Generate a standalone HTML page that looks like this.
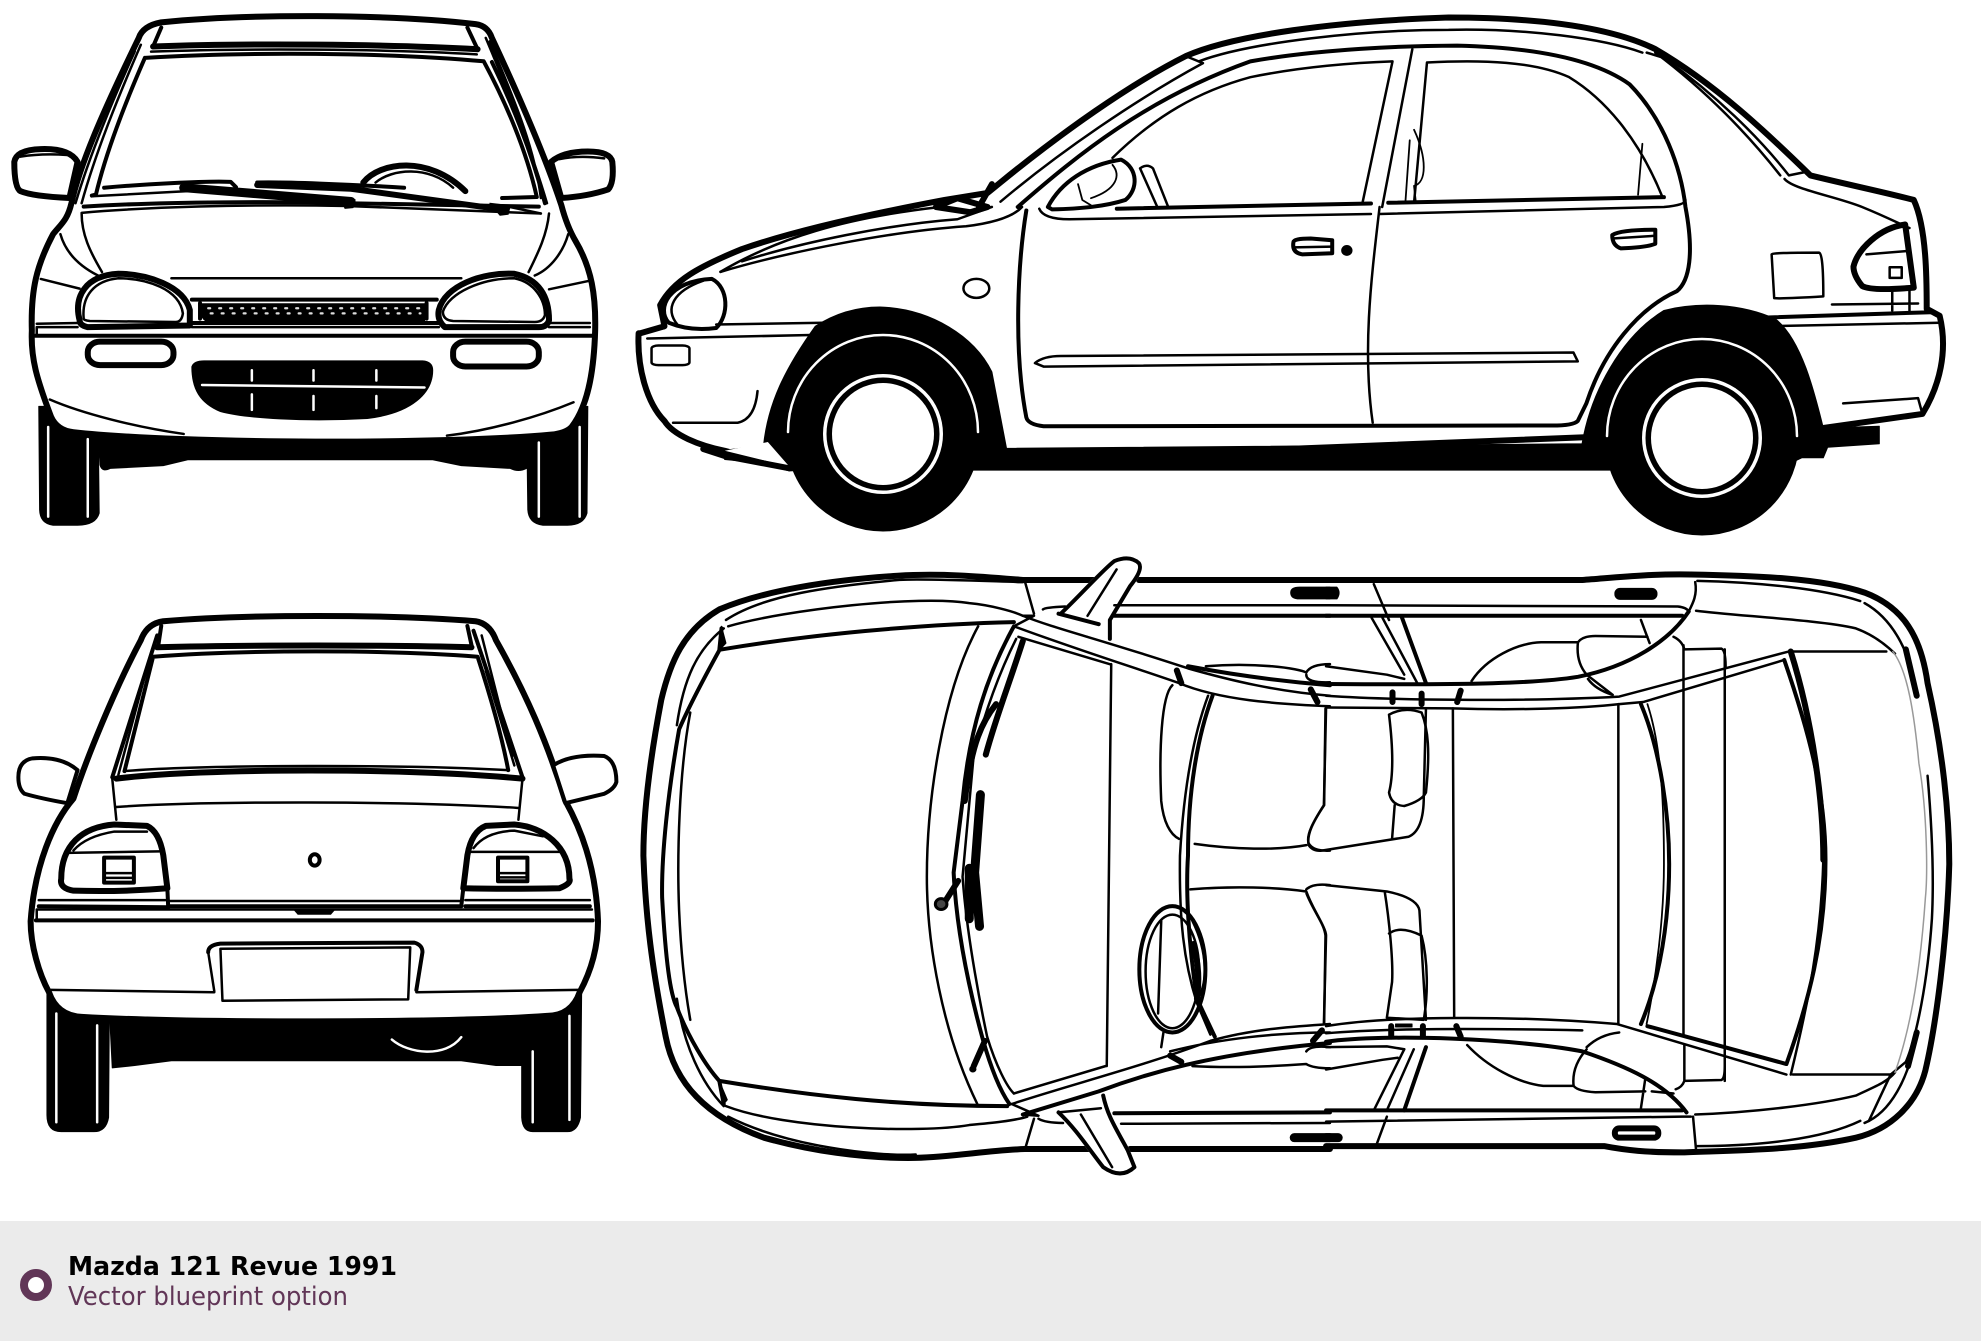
<!DOCTYPE html>
<html><head><meta charset="utf-8"><title>Mazda 121 Revue 1991</title>
<style>
html,body{margin:0;padding:0;background:#fff;width:1981px;height:1341px;overflow:hidden}
svg{display:block}
path,ellipse,rect,circle{vector-effect:non-scaling-stroke;fill:none;stroke:#000;stroke-width:4;stroke-linejoin:round;stroke-linecap:round}
.t{stroke-width:2.5}.n{stroke-width:1.8}.b{stroke-width:6}.x{stroke-width:9}
.f{fill:#000;stroke:#000;stroke-width:1}
.w{fill:#fff}
.wl{stroke:#fff;stroke-width:2.5}
.g{stroke:#999;stroke-width:1.5}
</style></head><body>
<svg width="1981" height="1341" viewBox="0 0 1981 1341" xmlns="http://www.w3.org/2000/svg">
<rect x="0" y="0" width="1981" height="1341" style="fill:#fff;stroke:none"/>

<!-- FRONT VIEW -->
<g transform="scale(.4082 .3444)">
<path class="f" d="M95,1180L240,1180L243,1490Q235,1525 190,1525L130,1525Q98,1520 97,1480Z"/>
<path class="f" d="M1290,1200L1440,1180L1438,1490Q1430,1525 1390,1525L1330,1525Q1295,1520 1293,1480Z"/>
<path class="f" d="M240,1260L1295,1260L1290,1360Q1270,1372 1250,1360L1130,1352L1060,1335L460,1335L400,1352L270,1360Q250,1372 245,1350Z"/>
<path class="wl" d="M118,1240V1500M215,1275V1500M1320,1285V1500M1420,1240V1500"/>
<path class="b w" d="M175,590C195,480 250,330 340,110Q350,75 395,65C600,40 950,40 1165,70Q1195,75 1205,110C1280,300 1340,470 1375,595C1385,640 1395,670 1410,700C1450,780 1460,860 1458,960C1455,1080 1440,1180 1400,1240Q1385,1258 1350,1262C1100,1290 450,1290 180,1255Q140,1250 125,1210C90,1100 75,1040 78,960C75,840 90,770 130,680C150,650 165,640 175,590Z"/>
<path class="b w" d="M375,135L395,80C600,62 950,62 1145,80L1170,143C950,128 600,125 375,135Z" style="stroke:none"/>
<path d="M375,135L395,80M1145,80L1170,143"/>
<path class="b" d="M375,135C600,125 950,128 1170,143"/>
<path class="t" d="M370,150C600,140 950,142 1168,158"/>
<path d="M355,168C600,150 950,152 1185,178C1240,300 1290,440 1315,572L1230,575M355,168C310,290 260,440 235,565L225,568"/>
<path class="t" d="M345,130C290,280 235,440 200,590M330,150C280,280 220,450 185,590M1190,110C1240,250 1300,430 1340,590M1200,120C1260,290 1310,430 1325,575"/>
<path d="M1205,180C1250,290 1300,430 1335,590"/>
<path d="M205,600C400,585 700,585 850,590L1320,600"/>
<path class="t" d="M200,618C350,602 600,592 850,598L1325,620"/>
<path class="t" d="M225,570L460,555"/>
<path d="M255,545C350,535 500,525 565,528L578,543M630,530C700,528 850,535 990,545"/>
<path class="x" d="M450,545L860,585"/>
<path class="b" d="M630,537L860,548L1240,610"/>
<path class="f" d="M835,575L870,580L865,603L845,605Z"/>
<path class="f" d="M1200,590L1250,597L1245,622L1225,625Z"/>
<path class="b" d="M890,530C930,470 1050,450 1140,555"/>
<path class="t" d="M920,530C960,490 1050,480 1110,545"/>
<path class="t" d="M1245,600L1325,620"/>
<path class="t" d="M200,620C200,680 220,730 250,790M1345,620C1340,680 1320,730 1295,790M148,680C160,730 190,770 240,800M1392,680C1380,730 1350,780 1310,800"/>
<path class="b w" d="M195,930C180,860 210,800 290,795C360,795 450,830 465,900L465,945L215,950Q195,945 195,930Z"/>
<path class="t" d="M205,925C200,860 230,815 290,808C360,808 440,840 448,910Q445,935 430,935L220,932Q205,930 205,925Z"/>
<path class="b w" d="M1075,900C1090,830 1180,790 1260,795C1320,810 1345,860 1345,930Q1340,950 1320,950L1090,950Q1070,930 1075,900Z"/>
<path class="t" d="M1085,905C1100,850 1180,808 1260,808C1310,820 1335,870 1335,915Q1330,935 1310,935L1110,932Q1085,930 1085,905Z"/>
<path class="t" d="M420,808L1130,808"/>
<path d="M470,870L1070,870M465,938L1075,938M490,880V925M1045,880V925"/>
<path class="f" d="M490,882L1045,882L1040,932L505,932Q490,925 490,882Z"/>
<path style="stroke:#ddd;stroke-width:2.2;stroke-dasharray:2 9" d="M510,895H1030M516,910H1030"/>
<path class="t" d="M90,950L190,950M90,940L190,938M1345,938L1445,938M1345,950L1445,950M90,950V975"/>
<path d="M85,975L1450,975"/>
<path class="t" d="M470,950L1075,950M100,810L195,838M1445,815L1345,840"/>
<rect class="b" x="215" y="992" width="210" height="68" rx="30"/>
<rect class="b" x="1110" y="992" width="210" height="72" rx="30"/>
<path class="f" d="M470,1065Q475,1048 500,1048L1035,1048Q1060,1050 1060,1075C1060,1140 1010,1200 900,1215C750,1225 600,1215 540,1195C490,1170 470,1130 470,1065Z"/>
<path class="wl" d="M495,1118L1040,1125M617,1075V1105M768,1075V1105M922,1075V1105M617,1145V1190M768,1150V1190M922,1150V1185"/>
<path class="t" d="M122,1160C200,1200 330,1240 450,1260M1405,1168C1320,1210 1200,1250 1095,1265"/>
<path class="b w" d="M35,470Q40,435 100,433Q170,430 190,470L170,575Q80,570 50,555Q35,545 35,470Z"/>
<path class="t" d="M50,455Q100,445 165,450"/>
<path class="b w" d="M1350,470Q1380,440 1440,440Q1495,440 1500,470Q1505,530 1490,550Q1440,570 1375,575Z"/>
<path class="t" d="M1370,462Q1420,450 1480,460"/>
</g>

<!-- SIDE VIEW -->
<g transform="translate(630,0) scale(.8616 .3508)">
<path class="b w" d="M10,950C8,1050 20,1150 40,1200C50,1240 80,1270 110,1285L185,1335L1385,1220L1500,1180C1520,1100 1530,1000 1520,900L1505,880C1505,800 1505,650 1490,570C1460,550 1420,530 1370,500C1320,380 1260,240 1190,140C1140,80 1060,50 950,50C820,60 700,100 645,160C580,240 500,380 430,520L415,550L365,570C300,600 200,650 130,710C80,760 50,800 35,870L40,930L12,950Z"/>
<path class="t" d="M660,175C720,120 850,85 950,85C1040,80 1130,110 1175,150"/>
<path class="t" d="M645,160L665,180C590,280 500,430 430,575"/>
<path class="t" d="M1180,150L1200,165C1260,270 1310,390 1345,500L1365,490C1320,370 1260,250 1200,160M1190,150C1250,260 1300,390 1335,500"/>
<path d="M450,590C520,440 600,280 720,175C800,140 900,130 960,130C1050,135 1120,170 1160,240C1200,340 1220,480 1225,590C1235,720 1230,800 1215,830C1170,880 1130,1000 1110,1150L1100,1200Q1095,1213 1070,1213L480,1215Q462,1210 460,1190C445,1000 450,750 460,600"/>
<path class="t" d="M560,450C610,330 660,260 720,220C770,195 830,180 885,175L850,580"/>
<path class="t" d="M908,140L873,590"/>
<path class="t" d="M925,178C990,170 1050,175 1090,220C1130,280 1170,390 1198,560M925,178L910,578"/>
<path class="n" d="M1175,410L1170,555M910,370C925,450 925,520 910,530L912,575M905,400L900,575"/>
<path class="t" d="M475,595Q480,625 510,625L860,610M870,610L1200,590Q1225,585 1225,570"/>
<path d="M565,595L860,580M880,578L1200,562"/>
<path class="w" d="M485,590C500,520 530,470 570,455C590,480 590,540 575,570C550,590 520,595 490,597Z"/>
<path class="n" d="M520,525L525,570L535,585M560,470C570,500 565,540 535,565"/>
<path class="t" d="M592,480Q600,465 607,480L625,592M592,480L612,590"/>
<path d="M770,690Q770,680 790,680L815,685L815,722L780,725Q768,720 770,690Z"/>
<path class="t" d="M770,705L815,703"/>
<ellipse class="f" cx="832" cy="714" rx="6" ry="14"/>
<path d="M1140,670Q1150,655 1190,655L1190,695Q1180,705 1150,708Q1140,700 1140,670Z"/>
<path class="t" d="M1140,680L1190,672"/>
<path class="t" d="M470,1035Q480,1015 500,1015L1095,1005L1100,1030L480,1045Z"/>
<path class="t" d="M870,590C860,800 850,1000 862,1205"/>
<path class="t" d="M1325,725Q1325,720 1380,720Q1385,720 1385,845Q1340,852 1328,850Z"/>
<path class="w b" d="M1420,760C1425,710 1450,650 1480,640L1490,820Q1440,830 1430,815C1425,800 1420,780 1420,760Z"/>
<path class="t" d="M1435,725L1485,715"/>
<rect class="t" x="1462" y="762" width="14" height="30"/>
<path class="t" d="M1395,868L1495,865M1465,825V885M1485,825V885"/>
<path d="M1320,905L1510,890"/>
<path class="t" d="M1320,930L1520,920M1408,1150L1495,1135L1500,1180"/>
<path class="t" d="M1340,510C1350,540 1400,560 1430,590C1460,620 1475,640 1485,650"/>
<ellipse class="t" cx="402" cy="822" rx="15" ry="27"/>
<path class="w" d="M45,920C30,880 45,800 95,795C115,820 115,900 100,935Q70,945 45,920Z"/>
<path class="t" d="M55,925C40,880 50,830 85,800"/>
<path class="t" d="M40,935L20,945M100,925L225,920M20,965L210,955"/>
<rect class="t" x="25" y="985" width="44" height="56" rx="8"/>
<path class="t" d="M50,1205L125,1205Q145,1195 148,1115"/>
<path class="t" d="M105,775C180,720 300,660 390,645Q440,630 455,590M130,745C200,690 300,640 380,625L420,590"/>
<path class="b" d="M355,590L380,565L415,590L395,605Z"/>
<path class="b" d="M405,590L420,525"/>
<path class="t" d="M360,590C250,620 170,680 105,775"/>
<!-- arches -->
<path class="f" d="M155,1270C160,1150 180,1050 215,930C240,890 265,875 290,875C350,880 400,960 420,1060L437,1278L1105,1265C1115,1120 1150,960 1200,885C1240,860 1290,865 1330,910C1360,970 1375,1120 1385,1220L1450,1215L1450,1265L1390,1275L1385,1305L1360,1305L1330,1340L400,1340L185,1335L155,1320L110,1310L105,1285L155,1270Z"/>
<path class="w" style="stroke:none" d="M160,1260L185,1330L110,1285Z"/>
<path class="b" d="M185,1335L110,1300L85,1280"/>
</g>
<g>
<circle class="f" cx="883" cy="434" r="97"/>
<path class="wl" d="M788,432A95,97 0 0 1 978,432"/>
<circle cx="883" cy="434" r="60" style="fill:#fff;stroke:none"/>
<circle class="f" cx="883" cy="434" r="56"/>
<circle cx="883" cy="434" r="51" style="fill:#fff;stroke:none"/>
<circle class="f" cx="1702" cy="438" r="97"/>
<path class="wl" d="M1607,436A95,97 0 0 1 1797,436"/>
<circle cx="1702" cy="438" r="60" style="fill:#fff;stroke:none"/>
<circle class="f" cx="1702" cy="438" r="56"/>
<circle cx="1702" cy="438" r="51" style="fill:#fff;stroke:none"/>
</g>

<!-- REAR VIEW -->
<g transform="translate(0,600) scale(.4082 .4726)">
<path class="f" d="M115,800L268,850L266,1095Q260,1125 230,1125L150,1125Q115,1125 115,1090Z"/>
<path class="f" d="M1278,860L1425,820L1422,1095Q1415,1125 1390,1125L1305,1125Q1280,1125 1278,1095Z"/>
<path class="f" d="M268,870L1282,870L1280,985L1215,985L1130,975L420,975L330,985L275,990Z"/>
<path class="wl" d="M138,875V1105M238,900V1105M1305,955V1105M1395,880V1100M960,930C1000,960 1090,970 1130,925"/>
<path class="b w" d="M180,420C210,340 280,190 345,85Q360,50 400,45C600,30 950,30 1165,45Q1200,50 1215,85C1290,200 1340,300 1385,425C1420,480 1460,560 1465,680C1465,740 1445,790 1420,830Q1400,880 1340,880C1100,895 450,895 200,882Q140,880 120,830C95,790 75,730 75,680C85,560 130,470 180,420Z"/>
<path d="M388,95L395,55M1145,55L1155,95"/>
<path class="b" d="M385,100C600,95 950,95 1155,100"/>
<path d="M375,120C600,105 950,105 1170,120C1200,200 1230,290 1245,360M375,120L305,362"/>
<path class="t" d="M305,362C500,348 1000,348 1245,360"/>
<path class="b" d="M285,378C500,355 1000,355 1280,378"/>
<path d="M385,75L275,375M1160,65L1280,375"/>
<path class="t" d="M355,160L290,370M1180,75L1255,330M1190,150L1260,350"/>
<path class="t" d="M275,378L285,465M1280,378L1270,465M285,438C500,425 1000,425 1270,440"/>
<path class="b w" d="M150,590C150,520 200,480 280,475L360,478Q390,490 400,540L410,610Q300,618 180,615Q145,610 150,590Z"/>
<path class="t" d="M165,535L390,532M180,530Q210,500 280,490L360,490"/>
<path class="b w" d="M1395,590C1395,520 1330,480 1260,475L1190,478Q1155,490 1145,540L1135,610Q1240,612 1370,610Q1400,600 1395,590Z"/>
<path class="t" d="M1155,533L1375,533M1160,525Q1190,490 1260,488L1330,500"/>
<rect x="255" y="545" width="73" height="53"/>
<path class="t" d="M255,578H328M255,588H328"/>
<rect x="1220" y="545" width="72" height="50"/>
<path class="t" d="M1220,578H1292M1220,587H1292"/>
<circle cx="771" cy="550" r="12"/>
<path class="t" d="M95,635L405,635M1140,635L1445,635"/>
<path d="M95,648L412,650M415,648L1130,648M1140,648L1445,648M410,610L412,650M1135,610L1130,648"/>
<path class="t" d="M415,637L1130,637"/>
<path class="t" d="M90,655L1450,655M90,655V678"/>
<path d="M88,678L1452,678"/>
<path class="f" d="M720,655L820,655L810,665L730,665Z"/>
<path d="M510,745Q510,730 540,727L1015,725Q1035,730 1035,745L1020,825"/>
<path class="t" d="M510,745L525,828"/>
<path class="t" d="M540,738L1005,735L1000,845L545,848Z"/>
<path class="t" d="M125,825L525,830M1020,830L1415,825"/>
<path class="w" d="M45,375Q45,340 80,335Q150,330 190,360L165,430Q100,420 60,410Q45,400 45,375Z"/>
<path class="w" d="M1355,350Q1400,325 1480,330Q1510,340 1510,385Q1505,400 1480,410L1385,430Z"/>
</g>

<!-- TOP VIEW left half -->
<g transform="translate(630,540) scale(.4464 .4209)">
<path class="b" d="M1568,95L1140,95M1040,95L880,95C800,88 700,78 600,85C450,95 300,120 200,165C120,215 90,290 70,380C45,520 30,650 30,750C35,900 50,1020 80,1180C100,1290 170,1370 300,1420C400,1450 520,1470 640,1468C730,1465 800,1450 885,1447L1030,1447M1120,1447L1568,1447"/>
<path class="t" d="M880,100C850,100 650,90 600,95C450,110 300,130 215,190"/>
<path class="t" d="M220,205C350,165 650,130 760,150C810,155 860,170 880,180"/>
<path d="M205,260C400,225 650,200 860,195"/>
<path class="f" d="M205,205L200,262L215,245Z"/>
<path class="f" d="M200,1285L210,1340L218,1330Z"/>
<path d="M205,210L200,262C170,320 130,400 110,450C85,600 70,750 72,850C80,1000 90,1080 105,1110C130,1180 170,1250 200,1285L210,1340"/>
<path class="t" d="M135,410C110,550 105,750 110,880C115,1000 125,1080 135,1140M210,210C150,260 120,330 105,440M105,1090C120,1200 160,1290 210,1345"/>
<path d="M200,1285C400,1320 600,1345 845,1345"/>
<path class="t" d="M215,1345C350,1400 650,1410 760,1390C810,1385 860,1380 890,1370M220,1370C350,1440 550,1465 640,1460"/>
<path class="t" d="M780,205C700,360 665,620 665,800C665,960 700,1170 778,1340"/>
<path d="M860,205C800,320 760,450 745,620L725,790C730,900 750,1030 790,1185C810,1260 830,1310 850,1340"/>
<path class="t" d="M865,235C820,330 790,430 770,510L745,800C755,950 790,1130 800,1180C820,1250 845,1300 860,1315"/>
<path class="b" d="M880,240C850,340 820,420 797,510"/>
<path class="b" d="M820,390C790,430 765,480 750,620"/>
<path class="x" d="M785,605L772,790L783,918M760,780V900"/>
<path class="b" d="M735,810L705,860M795,1190L770,1250"/>
<circle cx="697" cy="865" r="13" style="fill:#444;stroke:#000;stroke-width:3"/>
<circle class="f" cx="768" cy="1257" r="7"/>
<path class="t" d="M880,180C950,210 1050,235 1250,305C1350,335 1450,360 1568,370M860,205C1000,260 1150,310 1230,340C1320,380 1450,390 1568,395M870,230L1075,295"/>
<path d="M1250,300C1350,320 1450,335 1568,345"/>
<path class="t" d="M855,1340C1000,1290 1150,1250 1300,1190C1400,1160 1500,1155 1568,1150M860,1315L1065,1250M1210,1215C1320,1185 1450,1170 1568,1170"/>
<path d="M880,1365L1050,1310C1150,1270 1300,1220 1568,1195"/>
<path class="t" d="M860,205L905,180L880,180M855,1340L915,1368L880,1365"/>
<path class="t" d="M1078,295L1068,1250"/>
<path class="w" d="M970,170C1010,130 1060,70 1085,50Q1120,35 1140,55Q1150,70 1120,110L1075,190L1075,235L960,178Z" style="stroke:#fff"/>
<path d="M965,175C1010,130 1060,70 1085,50Q1120,35 1140,55Q1150,70 1120,110L1075,190L1075,235M960,175L1050,200"/>
<path class="t" d="M1025,180L1090,70"/>
<path class="w" d="M960,1360C1000,1400 1030,1450 1060,1490Q1100,1520 1130,1490L1115,1450C1090,1400 1070,1370 1060,1320Z" style="stroke:#fff"/>
<path d="M960,1360C1000,1400 1030,1450 1060,1490Q1100,1520 1130,1490L1115,1450C1090,1400 1070,1370 1060,1320"/>
<path class="t" d="M1010,1365L1080,1490M960,1360L1055,1350"/>
<path class="t" d="M1085,155L1568,155M1100,1387L1568,1385"/>
<path d="M1085,180L1568,180M1085,1362L1568,1360"/>
<path class="f" d="M1480,125Q1480,112 1500,112L1568,112V140L1500,140Q1480,140 1480,125Z"/>
<path class="x" d="M1488,1420L1568,1420"/>
<path class="t" d="M885,100L905,175M925,165Q930,160 975,158M905,1375L885,1447M915,1375Q930,1385 970,1385"/>
<path class="t" d="M1215,345C1190,370 1185,500 1190,620C1195,670 1210,700 1230,710M1265,722C1350,735 1450,738 1515,725"/>
<path d="M1305,370C1270,470 1250,600 1250,750C1245,830 1250,950 1270,1090L1310,1180"/>
<path class="t" d="M1295,370C1260,470 1240,600 1232,750C1230,900 1240,1000 1270,1100L1300,1175"/>
<path class="t" d="M1255,830C1350,822 1450,825 1515,835C1530,880 1555,910 1558,940L1555,1150M1558,400L1555,630C1530,670 1515,700 1520,720Q1530,740 1568,738M1515,830Q1530,815 1568,820"/>
<path class="t" d="M1290,300C1400,290 1500,305 1515,315Q1525,295 1568,295M1515,320Q1515,340 1568,338M1260,1250C1350,1255 1450,1250 1515,1245Q1530,1255 1568,1255M1515,1215Q1525,1200 1568,1205"/>
<ellipse cx="1215" cy="1020" rx="74" ry="150"/>
<ellipse class="t" cx="1215" cy="1025" rx="60" ry="135"/>
<path class="t" d="M1190,905L1183,1125M1195,1170L1190,1205"/>
<path class="b" d="M1262,960C1275,1010 1275,1050 1270,1090"/>
<path class="t" d="M1260,905C1295,980 1295,1060 1270,1090"/>
<path class="b" d="M1225,310L1235,340M1210,1225L1235,1240M1525,355L1540,385M1530,1190L1550,1165"/>
</g>

<!-- TOP VIEW right half -->
<g transform="translate(1300,540) scale(.4343 .4209)">
<path class="b" d="M60,95L650,95C720,90 800,80 900,82C1050,85 1200,90 1300,125C1390,160 1430,230 1445,340C1480,500 1495,650 1495,770C1490,950 1465,1150 1440,1260C1420,1340 1360,1400 1280,1420C1150,1450 1000,1450 880,1455C800,1455 750,1450 700,1440L60,1440"/>
<path class="t" d="M60,155L870,158Q890,160 895,170M60,1382L880,1370L900,1370"/>
<path d="M60,180L880,180M60,1355L880,1355"/>
<path class="t" d="M170,105L205,190M165,185L240,320M190,185L270,340M175,1440L200,1370M170,1355L240,1210M200,1355L262,1210"/>
<path d="M235,185L290,340M240,1355L290,1205"/>
<rect class="f" x="725" y="115" width="97" height="26" rx="12"/>
<path class="f" d="M60,112L85,112Q95,125 85,140L60,140Z"/>
<rect class="b" x="725" y="1398" width="100" height="22" rx="10"/>
<path class="x" d="M60,1420L88,1420"/>
<path class="t" d="M910,100C915,130 905,150 895,170"/>
<path d="M895,170C850,240 760,300 640,325C550,340 400,345 60,342"/>
<path class="t" d="M60,370C200,380 500,385 735,372L1125,265M60,398L350,400C500,405 650,400 735,390L790,385L1115,285"/>
<path d="M1115,285C1170,450 1210,600 1210,760C1210,950 1170,1100 1120,1245L800,1155"/>
<path class="b" d="M1130,265C1180,430 1205,620 1205,760"/>
<path class="t" d="M1125,265L1350,265M1135,1270L1360,1270M1205,760C1200,950 1170,1100 1130,1270"/>
<path class="t" d="M60,1155C200,1130 500,1130 730,1150L1120,1270M60,1172C200,1160 400,1160 650,1165"/>
<path d="M60,1192C200,1172 500,1185 650,1215C750,1250 840,1290 890,1360"/>
<path class="t" d="M60,1205L200,1203L240,1210M60,1258L190,1235L225,1230"/>
<path class="t" d="M352,400L355,1135M733,390L733,1150M883,250L883,1175M978,260L978,1285"/>
<path class="t" d="M860,230Q880,240 885,260L970,258Q980,262 980,300M885,1285L970,1283Q978,1280 978,1250M885,1200L885,1285Q880,1300 865,1305"/>
<path d="M785,390C830,500 850,650 850,770C850,900 830,1040 785,1150"/>
<path class="n" d="M800,390C835,500 838,650 838,770C838,900 820,1040 798,1150"/>
<path class="t" d="M60,300L200,320L240,330M60,400L55,630C30,670 15,700 20,725Q30,740 50,738L250,705Q285,690 285,610L290,400"/>
<path class="t" d="M205,415C215,500 215,560 205,600Q210,630 240,632Q280,620 290,600C300,500 295,450 280,410Q240,395 205,415M218,630L212,710"/>
<path class="t" d="M60,940L55,1150M15,840C30,880 60,920 60,940M60,820L200,835Q270,850 275,880L290,1140M195,835C205,900 215,1000 212,1050L200,1135M205,935Q230,915 280,940C295,1000 295,1080 285,1140L200,1135"/>
<path class="t" d="M395,335C430,280 500,245 555,243L640,243Q635,290 660,320L720,368M640,243Q650,228 680,228L800,230M785,190L805,245M663,330Q680,355 720,368"/>
<path class="t" d="M385,1200C430,1250 500,1290 560,1297L630,1297Q625,1250 660,1210M660,1205Q690,1175 735,1170M630,1297Q640,1310 680,1312L795,1310M795,1280L785,1350M810,1310L860,1315"/>
<path class="t" d="M912,168C1000,180 1200,190 1280,210C1320,225 1350,250 1370,270M910,1365C1050,1360 1200,1340 1280,1320C1320,1300 1350,1290 1370,1265M915,97C1050,100 1200,115 1290,145M915,1440C1050,1440 1200,1425 1290,1380M905,1370L912,1450"/>
<path class="t" d="M1300,150C1370,190 1410,280 1420,370M1300,1385C1360,1360 1400,1280 1420,1180"/>
<path class="b" d="M1395,260L1420,370M1420,1170L1400,1250"/>
<path class="t" d="M1445,560C1455,680 1460,800 1455,900C1445,1050 1420,1180 1395,1240L1360,1270M1360,1270L1310,1380"/>
<path class="g" d="M1365,265C1400,310 1415,420 1425,530C1445,650 1445,800 1440,850C1430,1000 1410,1150 1370,1265"/>
<path class="b" d="M213,362V385M280,365V390M370,358L362,385M210,1155V1180M283,1155V1180M360,1155L370,1180"/>
<path class="f" d="M220,1150H258V1157H220Z"/>
</g>

<!-- FOOTER -->
<rect x="0" y="1221" width="1981" height="120" style="fill:#ebebeb;stroke:none"/>
<circle cx="36" cy="1285" r="12" style="fill:#fff;stroke:#613657;stroke-width:8"/>
<text x="68" y="1275" font-family="'DejaVu Sans',sans-serif" font-weight="700" font-size="26" textLength="329" lengthAdjust="spacingAndGlyphs" fill="#000">Mazda 121 Revue 1991</text>
<text x="68" y="1305" font-family="'DejaVu Sans',sans-serif" font-size="26" textLength="280" lengthAdjust="spacingAndGlyphs" fill="#613657">Vector blueprint option</text>
</svg>
</body></html>
